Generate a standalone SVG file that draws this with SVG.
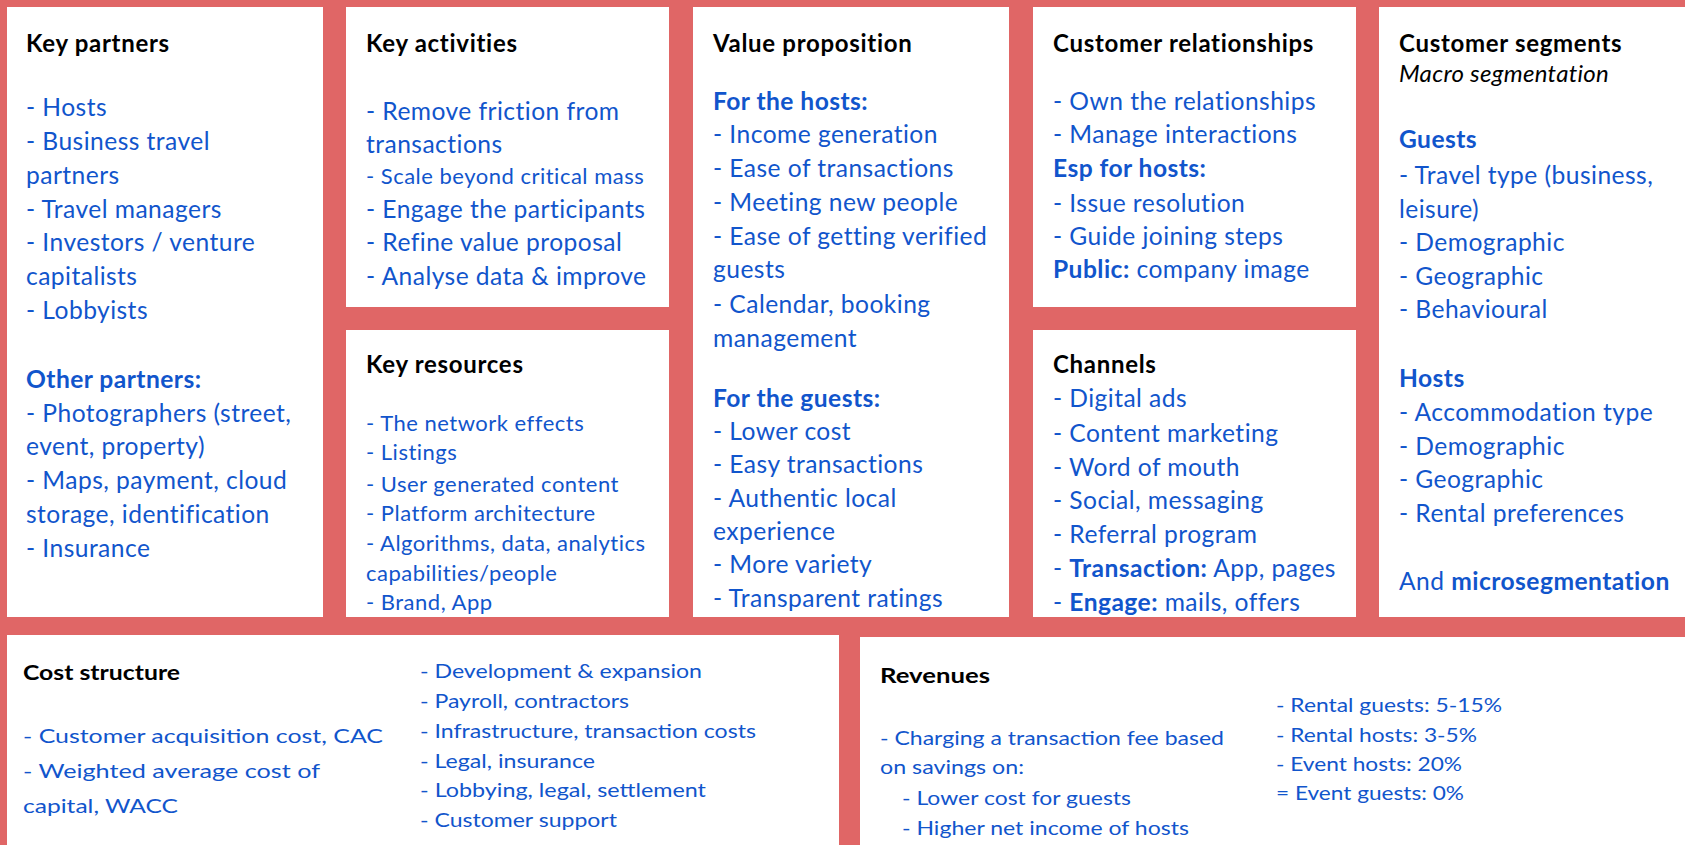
<svg xmlns="http://www.w3.org/2000/svg" width="1685" height="845" viewBox="0 0 1685 845">
<style>
text { font-family: Lato, Carlito, "Noto Sans", sans-serif; }
.box { fill: #ffffff; }
.h { font-size: 24px; font-weight: 700; fill: #000000; letter-spacing: 0.7px; }
.b { font-size: 24.6px; fill: #1155cc; letter-spacing: 0.45px; }
.s { font-size: 22px; fill: #1155cc; letter-spacing: 0.5px; }
.f { font-size: 20px; fill: #1155cc; }
.fh { font-size: 20px; font-weight: 700; fill: #000000; }
.bb { font-weight: 700; }
.it { font-size: 24px; font-style: italic; fill: #000000; letter-spacing: 0.3px; }
</style>
<rect x="0" y="0" width="1685" height="845" fill="#e06666"/>
<g id="connectors"></g>

<g id="key-partners">
<rect class="box" x="7" y="7" width="316" height="610"/>
<text class="h" x="26" y="52">Key partners</text>
<text class="b" x="26" y="116">- Hosts</text>
<text class="b" x="26" y="150">- Business travel</text>
<text class="b" x="26" y="184">partners</text>
<text class="b" x="26" y="218">- Travel managers</text>
<text class="b" x="26" y="251">- Investors / venture</text>
<text class="b" x="26" y="285">capitalists</text>
<text class="b" x="26" y="319">- Lobbyists</text>
<text class="b bb" x="26" y="388">Other partners:</text>
<text class="b" x="26" y="422">- Photographers (street,</text>
<text class="b" x="26" y="455">event, property)</text>
<text class="b" x="26" y="489">- Maps, payment, cloud</text>
<text class="b" x="26" y="523">storage, identification</text>
<text class="b" x="26" y="557">- Insurance</text>
</g>

<g id="key-activities">
<rect class="box" x="346" y="7" width="323" height="300"/>
<text class="h" x="366" y="52">Key activities</text>
<text class="b" x="366" y="120">- Remove friction from</text>
<text class="b" x="366" y="153">transactions</text>
<text class="s" x="366" y="184">- Scale beyond critical mass</text>
<text class="b" x="366" y="218">- Engage the participants</text>
<text class="b" x="366" y="251">- Refine value proposal</text>
<text class="b" x="366" y="285">- Analyse data &amp; improve</text>
</g>

<g id="key-resources">
<rect class="box" x="346" y="330" width="323" height="287"/>
<text class="h" x="366" y="373">Key resources</text>
<text class="s" x="366" y="431">- The network effects</text>
<text class="s" x="366" y="460">- Listings</text>
<text class="s" x="366" y="492">- User generated content</text>
<text class="s" x="366" y="521">- Platform architecture</text>
<text class="s" x="366" y="551">- Algorithms, data, analytics</text>
<text class="s" x="366" y="581">capabilities/people</text>
<text class="s" x="366" y="610">- Brand, App</text>
</g>

<g id="value-proposition">
<rect class="box" x="693" y="7" width="316" height="610"/>
<text class="h" x="713" y="52">Value proposition</text>
<text class="b bb" x="713" y="110">For the hosts:</text>
<text class="b" x="713" y="143">- Income generation</text>
<text class="b" x="713" y="177">- Ease of transactions</text>
<text class="b" x="713" y="211">- Meeting new people</text>
<text class="b" x="713" y="245">- Ease of getting verified</text>
<text class="b" x="713" y="278">guests</text>
<text class="b" x="713" y="313">- Calendar, booking</text>
<text class="b" x="713" y="347">management</text>
<text class="b bb" x="713" y="407">For the guests:</text>
<text class="b" x="713" y="440">- Lower cost</text>
<text class="b" x="713" y="473">- Easy transactions</text>
<text class="b" x="713" y="507">- Authentic local</text>
<text class="b" x="713" y="540">experience</text>
<text class="b" x="713" y="573">- More variety</text>
<text class="b" x="713" y="607">- Transparent ratings</text>
</g>

<g id="customer-relationships">
<rect class="box" x="1033" y="7" width="323" height="300"/>
<text class="h" x="1053" y="52">Customer relationships</text>
<text class="b" x="1053" y="110">- Own the relationships</text>
<text class="b" x="1053" y="143">- Manage interactions</text>
<text class="b bb" x="1053" y="177">Esp for hosts:</text>
<text class="b" x="1053" y="212">- Issue resolution</text>
<text class="b" x="1053" y="245">- Guide joining steps</text>
<text class="b" x="1053" y="278"><tspan class="bb">Public:</tspan> company image</text>
</g>

<g id="channels">
<rect class="box" x="1033" y="330" width="323" height="287"/>
<text class="h" x="1053" y="373">Channels</text>
<text class="b" x="1053" y="407">- Digital ads</text>
<text class="b" x="1053" y="442">- Content marketing</text>
<text class="b" x="1053" y="476">- Word of mouth</text>
<text class="b" x="1053" y="509">- Social, messaging</text>
<text class="b" x="1053" y="543">- Referral program</text>
<text class="b" x="1053" y="577">- <tspan class="bb">Transaction:</tspan> App, pages</text>
<text class="b" x="1053" y="611">- <tspan class="bb">Engage:</tspan> mails, offers</text>
</g>

<g id="customer-segments">
<rect class="box" x="1379" y="7" width="306" height="610"/>
<text class="h" x="1399" y="52">Customer segments</text>
<text class="it" x="1399" y="82">Macro segmentation</text>
<text class="b bb" x="1399" y="148">Guests</text>
<text class="b" x="1399" y="184">- Travel type (business,</text>
<text class="b" x="1399" y="218">leisure)</text>
<text class="b" x="1399" y="251">- Demographic</text>
<text class="b" x="1399" y="285">- Geographic</text>
<text class="b" x="1399" y="318">- Behavioural</text>
<text class="b bb" x="1399" y="387">Hosts</text>
<text class="b" x="1399" y="421">- Accommodation type</text>
<text class="b" x="1399" y="455">- Demographic</text>
<text class="b" x="1399" y="488">- Geographic</text>
<text class="b" x="1399" y="522">- Rental preferences</text>
<text class="b" x="1399" y="590">And <tspan class="bb">microsegmentation</tspan></text>
</g>

<g id="cost-structure">
<rect class="box" x="7" y="635" width="832" height="215"/>
<text class="fh" x="23" y="680" textLength="157" lengthAdjust="spacingAndGlyphs">Cost structure</text>
<text class="f" x="23" y="743" textLength="360" lengthAdjust="spacingAndGlyphs">- Customer acquisition cost, CAC</text>
<text class="f" x="23" y="778" textLength="297" lengthAdjust="spacingAndGlyphs">- Weighted average cost of</text>
<text class="f" x="23" y="813" textLength="155" lengthAdjust="spacingAndGlyphs">capital, WACC</text>
<text class="f" x="420" y="678" textLength="282" lengthAdjust="spacingAndGlyphs">- Development &amp; expansion</text>
<text class="f" x="420" y="708" textLength="209" lengthAdjust="spacingAndGlyphs">- Payroll, contractors</text>
<text class="f" x="420" y="738" textLength="336" lengthAdjust="spacingAndGlyphs">- Infrastructure, transaction costs</text>
<text class="f" x="420" y="768" textLength="175" lengthAdjust="spacingAndGlyphs">- Legal, insurance</text>
<text class="f" x="420" y="797" textLength="286" lengthAdjust="spacingAndGlyphs">- Lobbying, legal, settlement</text>
<text class="f" x="420" y="827" textLength="197" lengthAdjust="spacingAndGlyphs">- Customer support</text>
</g>

<g id="revenues">
<rect class="box" x="860" y="637" width="825" height="215"/>
<text class="fh" x="880" y="683" textLength="110" lengthAdjust="spacingAndGlyphs">Revenues</text>
<text class="f" x="880" y="745" textLength="344" lengthAdjust="spacingAndGlyphs">- Charging a transaction fee based</text>
<text class="f" x="880" y="774" textLength="144" lengthAdjust="spacingAndGlyphs">on savings on:</text>
<text class="f" x="902" y="805" textLength="229" lengthAdjust="spacingAndGlyphs">- Lower cost for guests</text>
<text class="f" x="902" y="835" textLength="287" lengthAdjust="spacingAndGlyphs">- Higher net income of hosts</text>
<text class="f" x="1276" y="712" textLength="226" lengthAdjust="spacingAndGlyphs">- Rental guests: 5-15%</text>
<text class="f" x="1276" y="742" textLength="201" lengthAdjust="spacingAndGlyphs">- Rental hosts: 3-5%</text>
<text class="f" x="1276" y="771" textLength="186" lengthAdjust="spacingAndGlyphs">- Event hosts: 20%</text>
<text class="f" x="1276" y="800" textLength="188" lengthAdjust="spacingAndGlyphs">= Event guests: 0%</text>
</g>
</svg>
